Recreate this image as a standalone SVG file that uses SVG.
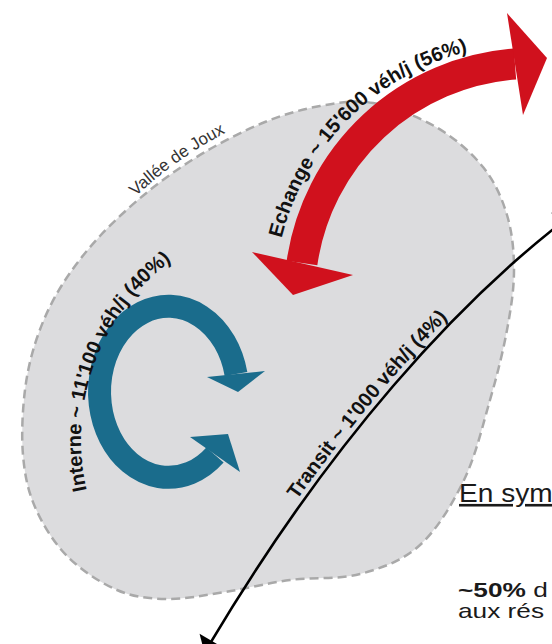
<svg xmlns="http://www.w3.org/2000/svg" width="552" height="644" viewBox="0 0 552 644">
  <style>
    .lbl { font-family: "Liberation Sans", Arial, sans-serif; font-weight: bold; font-size: 20px; fill: #111; }
    .zone { fill: #dcdcde; stroke: #a9a9a9; stroke-width: 2.5; stroke-dasharray: 9 5; }
    .red { fill: #d0111d; }
    .blue { fill: #1a6c8c; }
    .side { font-family: "Liberation Sans", Arial, sans-serif; fill: #1a1a1a; }
  </style>
  <defs>
    <marker id="head" markerUnits="userSpaceOnUse" viewBox="-15 -16 30 32" markerWidth="30" markerHeight="32" refX="0" refY="0" orient="auto-start-reverse">
      <polygon points="-13,-14 1,0 -13,14" fill="#000"/>
    </marker>
    <path id="pVallee" d="M -172.3,-165.9 A 296 204 0 0 1 267,-88.2"/>
    <path id="pEchange" d="M 281.6,238.1 A 256 256 0 0 1 617.6,59.4"/>
    <path id="pInterne" d="M 86.7,490.2 A 223 223 0 0 1 192.5,246.9"/>
    <path id="pTransit" d="M 201,648 C 326,436 456,296 564,214"/>
  </defs>

  <g id="vallee">
    <path class="zone" d="M 373,103 C 392.3,106.5 417.7,116.3 436,127 C 454.3,137.7 471.2,152.3 483,167 C 494.8,181.7 501.8,197.8 507,215 C 512.2,232.2 514,250.8 514,270 C 514,289.2 511,308.3 507,330 C 503,351.7 497.2,375 490,400 C 482.8,425 475.7,455.8 464,480 C 452.3,504.2 437.3,529.3 420,545 C 402.7,560.7 381.7,568.2 360,574 C 338.3,579.8 312.5,577 290,580 C 267.5,583 245.5,588.8 225,592 C 204.5,595.2 185,599.3 167,599 C 149,598.7 133.7,597.2 117,590 C 100.3,582.8 80.7,569.8 67,556 C 53.3,542.2 42.3,523.8 35,507 C 27.7,490.2 24.7,474.5 23,455 C 21.3,435.5 22.5,410 25,390 C 27.5,370 31.8,352.5 38,335 C 44.2,317.5 51.7,301.5 62,285 C 72.3,268.5 85.3,251.8 100,236 C 114.7,220.2 132.5,204 150,190 C 167.5,176 185.8,163.3 205,152 C 224.2,140.7 245.8,129.7 265,122 C 284.2,114.3 302,109.2 320,106 C 338,102.8 353.7,99.5 373,103 Z"/>
    <text transform="translate(268,352) rotate(-45)" style="font-family: 'Liberation Sans', Arial, sans-serif; font-size: 17px; fill: #333;">
      <textPath href="#pVallee" startOffset="52%" text-anchor="middle">Vallée de Joux</textPath>
    </text>
  </g>

  <g id="echange">
    <path d="M 302,263 A 233 233 0 0 1 515,64" fill="none" stroke="#d0111d" stroke-width="31"/>
    <polygon class="red" points="507,13 547,58 523,115"/>
    <polygon class="red" points="252,252 293,295 353,275"/>
    <text class="lbl" font-size="21"><textPath href="#pEchange">Echange ~ 15'600 véh/j (56%)</textPath></text>
  </g>

  <g id="interne">
    <path d="M 215,455 A 69 85.5 0 1 1 236,374" fill="none" stroke="#1a6c8c" stroke-width="23"/>
    <polygon class="blue" points="207,377 238,392 265,371"/>
    <polygon class="blue" points="190,437 228,434 240,472"/>
    <text class="lbl"><textPath href="#pInterne">Interne ~ 11'100 véh/j (40%)</textPath></text>
  </g>

  <g id="connectors">
    <path id="transit-line" d="M 570,216 C 460,300 330,440 205,652" fill="none" stroke="#000" stroke-width="2.6" marker-start="url(#head)" marker-end="url(#head)"/>
  </g>

  <g id="transit">
    <text class="lbl" font-size="21"><textPath href="#pTransit" startOffset="31%">Transit ~ 1'000 véh/j (4%)</textPath></text>
  </g>

  <g id="synthese">
    <text class="side" transform="translate(459,502) scale(1.08,1)" font-size="26" text-decoration="underline">En sym</text>
    <text class="side" transform="translate(458,597) scale(1.25,1)" font-size="21"><tspan font-weight="bold">~50%</tspan> d</text>
    <text class="side" transform="translate(458,618) scale(1.25,1)" font-size="21">aux rés</text>
  </g>
</svg>
